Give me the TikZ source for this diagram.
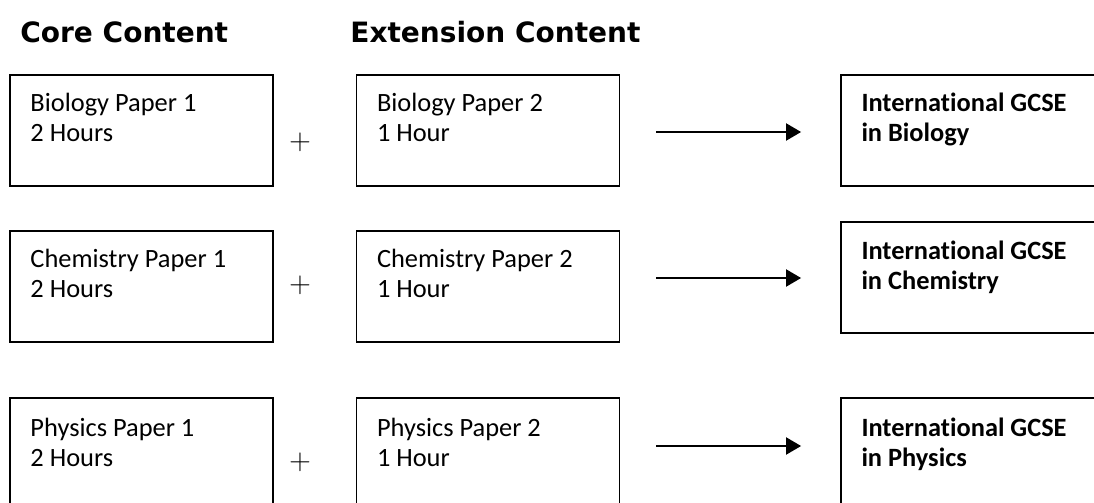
\documentclass[tikz,border=0pt]{standalone}
\usepackage{fontspec}
\setmainfont[Ligatures=NoCommon]{Carlito}
\newfontfamily\headfont{DejaVu Sans}
\usetikzlibrary{arrows.meta}
\begin{document}
\begin{tikzpicture}[x=0.5pt,y=-0.5pt,
  box/.style={draw,line width=0.9pt,minimum width=131.5pt,minimum height=55.5pt,inner sep=0pt},
  lbl/.style={anchor=base west,align=left,inner sep=0pt,font=\fontsize{13.2}{15}\selectfont},
  res/.style={lbl,font=\bfseries\fontsize{13.2}{15}\selectfont},
  head/.style={anchor=base west,inner sep=0pt,font=\headfont\bfseries\fontsize{14}{17}\selectfont},
  arr/.style={-{Triangle[length=7.5pt,width=8.5pt]},line width=1pt}]
\useasboundingbox(0,0)rectangle(1094,503);
\clip(0,0)rectangle(1094,503);
\node[head](core)at(20,42){Core Content};
\node[head](ext)at(350,42){Extension Content};
% boxes, one row per subject
\node[box](bioA)at(141.5,130.5){};
\node[box](bioB)at(488,130.5){};
\node[box](bioC)at(972.5,130.5){};
\node[box](chemA)at(141.5,286.5){};
\node[box](chemB)at(488,286.5){};
\node[box](chemC)at(972.5,277.5){};
\node[box](phyA)at(141.5,453.5){};
\node[box](phyB)at(488,453.5){};
\node[box](phyC)at(972.5,453.5){};
% texts (anchor is the baseline of the second line)
\node[lbl](bioAt)at([shift={(21,67)}]bioA.north west){Biology Paper 1\\2 Hours};
\node[lbl](bioBt)at([shift={(21,67)}]bioB.north west){Biology Paper 2\\1 Hour};
\node[res](bioCt)at([shift={(21,67)}]bioC.north west){International GCSE\\in Biology};
\node[lbl](chemAt)at([shift={(21,67)}]chemA.north west){Chemistry Paper 1\\2 Hours};
\node[lbl](chemBt)at([shift={(21,67)}]chemB.north west){Chemistry Paper 2\\1 Hour};
\node[res](chemCt)at([shift={(21,68)}]chemC.north west){International GCSE\\in Chemistry};
\node[lbl](phyAt)at([shift={(21,69)}]phyA.north west){Physics Paper 1\\2 Hours};
\node[lbl](phyBt)at([shift={(21,69)}]phyB.north west){Physics Paper 2\\1 Hour};
\node[res](phyCt)at([shift={(21,69)}]phyC.north west){International GCSE\\in Physics};
% plus signs
\node[font=\Large](bioP)at(300,142){$+$};
\node[font=\Large](chemP)at(300,285){$+$};
\node[font=\Large](phyP)at(300,462){$+$};
% arrows
\coordinate(bioY)at(0,132);
\coordinate(chemY)at(0,278);
\coordinate(phyY)at(0,446);
\draw[arr]([xshift=18pt]bioB.east|-bioY)--([xshift=-19.5pt]bioC.west|-bioY);
\draw[arr]([xshift=18pt]chemB.east|-chemY)--([xshift=-19.5pt]chemC.west|-chemY);
\draw[arr]([xshift=18pt]phyB.east|-phyY)--([xshift=-19.5pt]phyC.west|-phyY);
\end{tikzpicture}
\end{document}
